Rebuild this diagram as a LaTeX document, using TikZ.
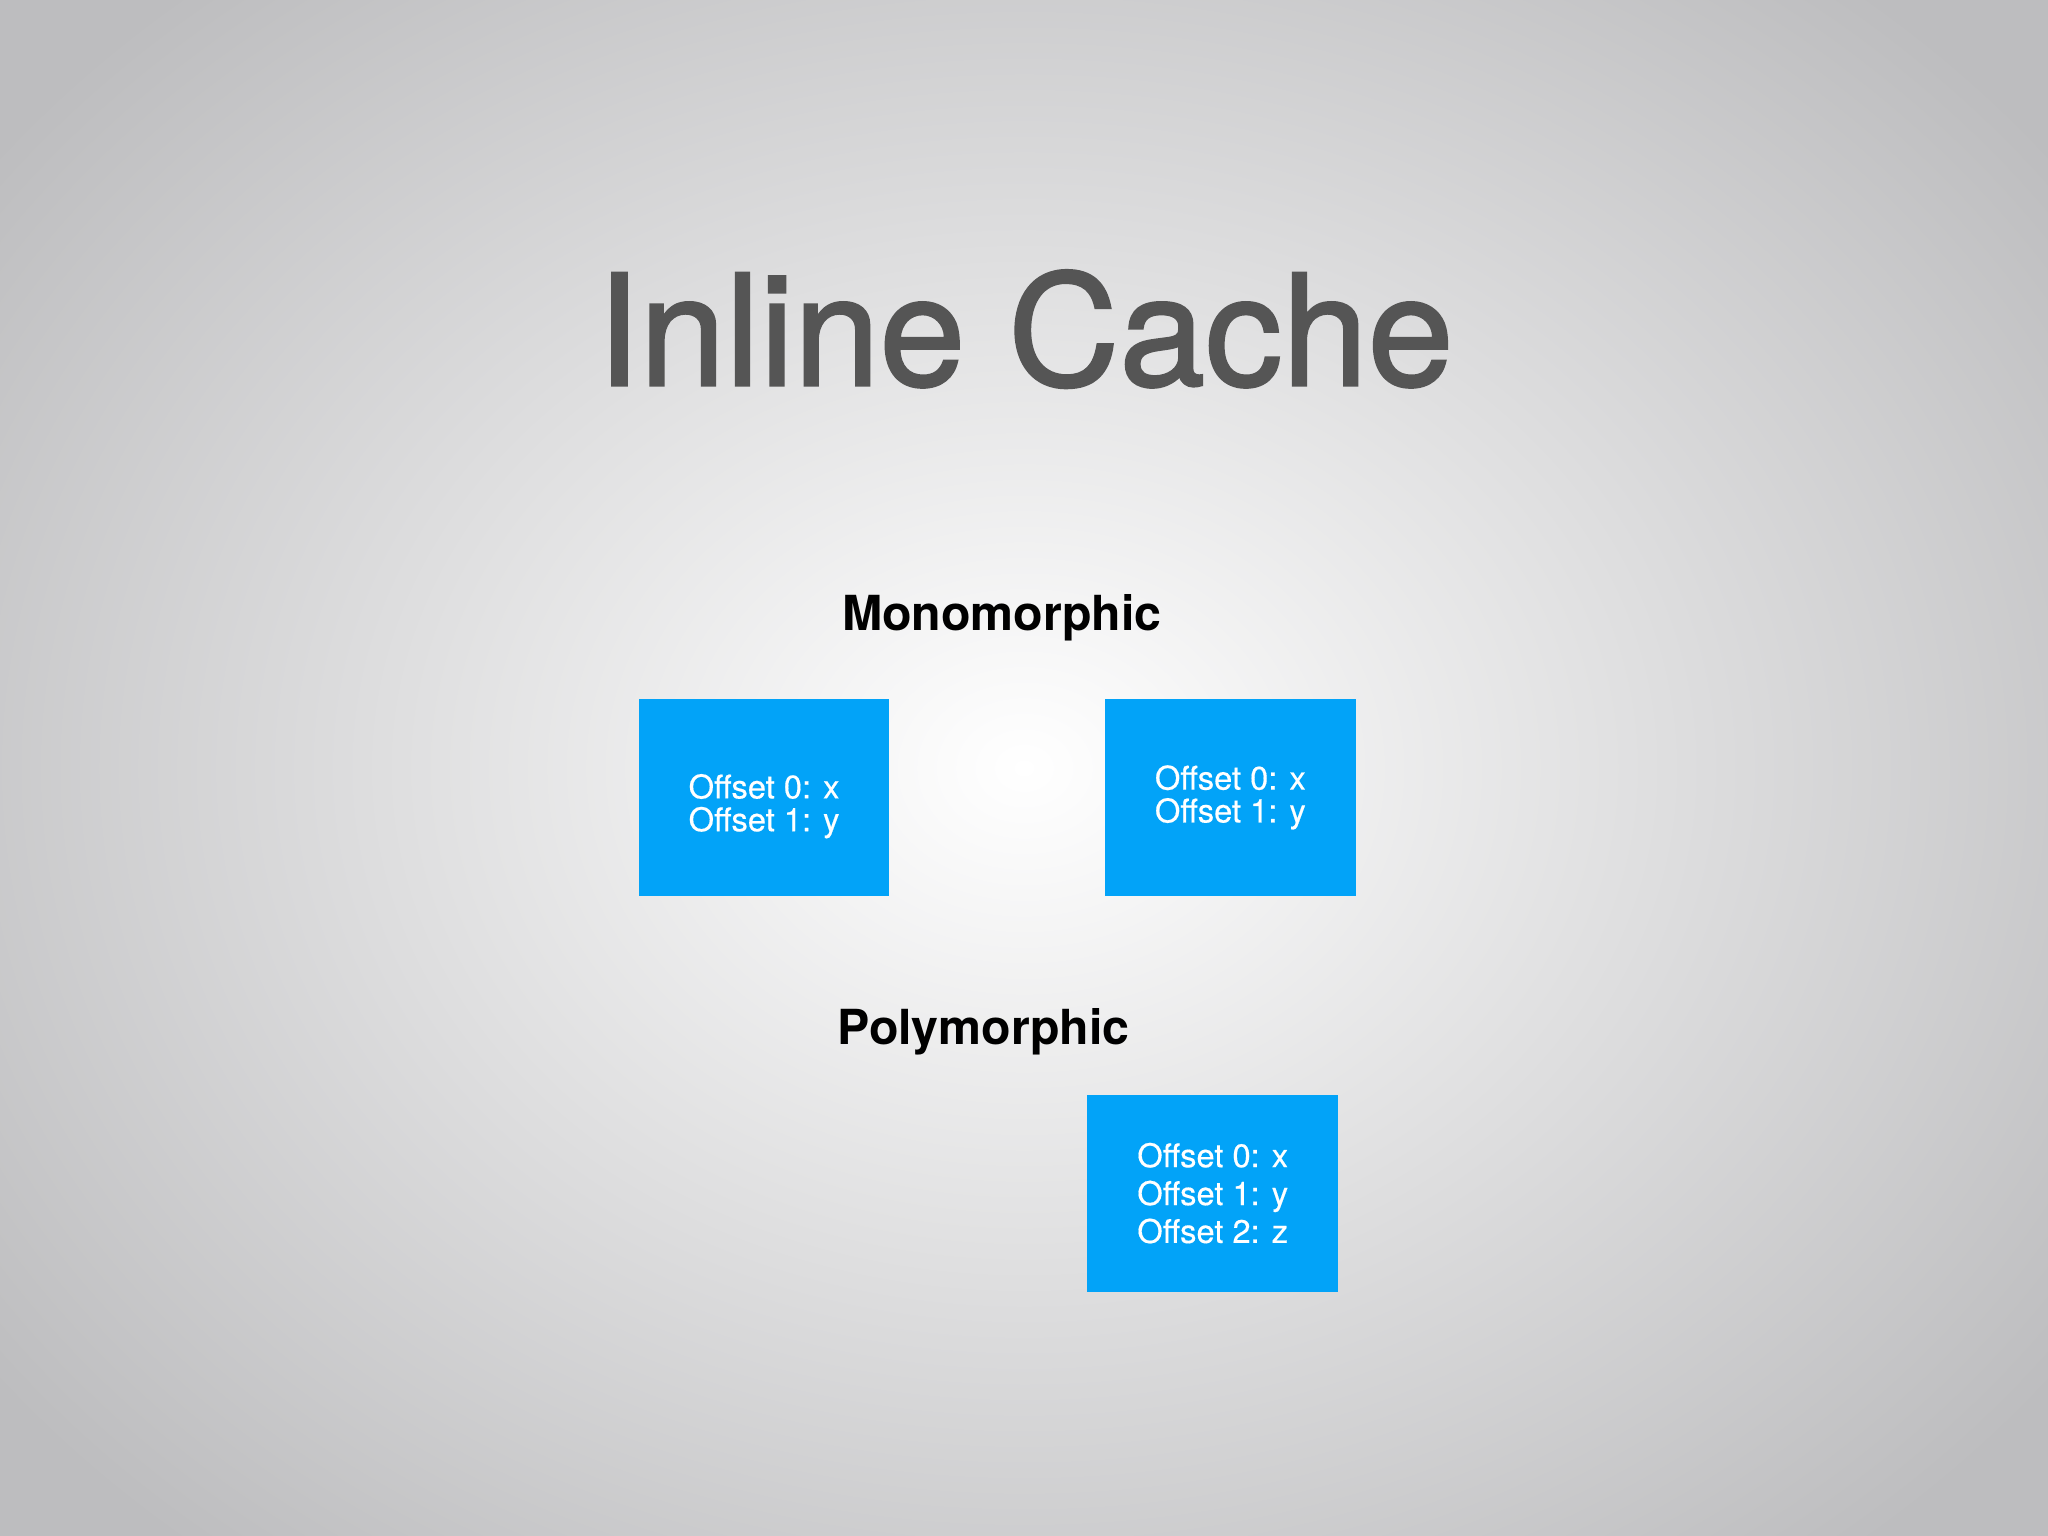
\documentclass[tikz,border=0pt]{standalone}
\usepackage{fontspec}
\setmainfont{TeX Gyre Heros}
\newfontfamily\titlefont[FakeBold=1.6]{TeX Gyre Heros}
\newfontfamily\boxfont[FakeBold=0.4]{TeX Gyre Heros}
\definecolor{boxblue}{HTML}{02A3F8}
\definecolor{titlegray}{HTML}{555555}
\definecolor{bgedge}{HTML}{BDBDBF}
\begin{document}
\begin{tikzpicture}[x=0.5pt,y=-0.5pt,
  cachebox/.style={fill=boxblue,draw=none,inner sep=0pt,minimum width=96pt,minimum height=75.5pt,
    text=white,font=\boxfont\fontsize{12.5}{14.5}\selectfont,align=center},
  heading/.style={font=\bfseries\fontsize{18.5}{22}\selectfont,text=black,anchor=base}]
\useasboundingbox (0,0) rectangle (1568,1176);
\fill[bgedge] (0,0) rectangle (1568,1176);
\shade[inner color=white,outer color=bgedge] (-200,-200) rectangle (1768,1376);
\node[font=\titlefont\fontsize{59}{70}\selectfont,text=titlegray,anchor=base] (title) at (785,295) {Inline Cache};
\node[heading] (mono) at (767,483) {Monomorphic};
\node[cachebox,text depth=0pt] (m1) at (585,610.5) {\raisebox{-4pt}{\shortstack{Offset 0: x\\Offset 1: y}}};
\node[cachebox] (m2) at (942,610.5) {\raisebox{-4pt}{\shortstack{Offset 0: x\\Offset 1: y}}};
\node[heading] (poly) at (753,800) {Polymorphic};
\node[cachebox] (p1) at (928.5,913.5) {Offset 0: x\\Offset 1: y\\Offset 2: z};
\end{tikzpicture}
\end{document}
